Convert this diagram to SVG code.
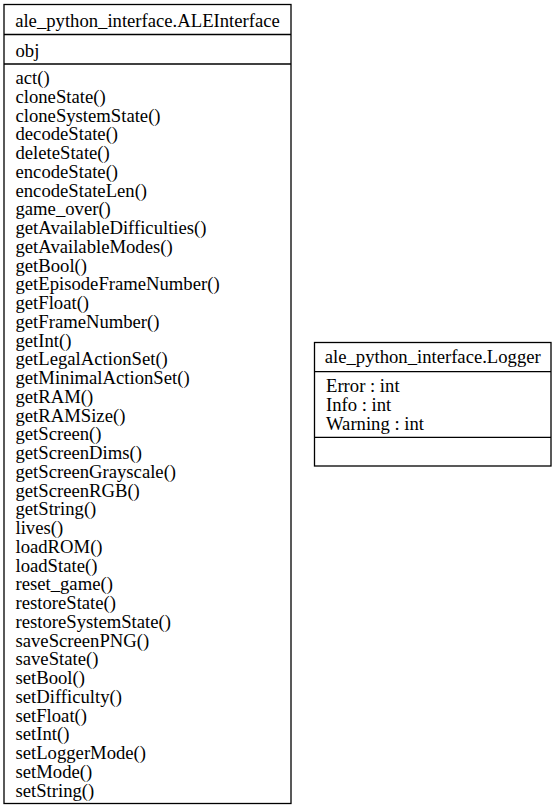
<svg xmlns="http://www.w3.org/2000/svg" width="558" height="809" viewBox="0 0 558 809">
<style>
.box{fill:#fff;stroke:#000;stroke-width:1.3}
.ln{stroke:#000;stroke-width:1.3}
text{font-family:"Liberation Serif","Times New Roman",serif;font-size:18.67px;fill:#000}
.c{text-anchor:middle}
</style>
<rect width="558" height="809" fill="#fff"/>
<g id="ALEInterface">
<rect class="box" x="4" y="4.5" width="287" height="799"/>
<line class="ln" x1="4" y1="34.5" x2="291" y2="34.5"/>
<line class="ln" x1="4" y1="64" x2="291" y2="64"/>
<text class="c" x="147.5" y="27">ale_python_interface.ALEInterface</text>
<text x="15.5" y="56.5">obj</text>
<text x="15.5" y="84">act()</text>
<text x="15.5" y="102.75">cloneState()</text>
<text x="15.5" y="121.5">cloneSystemState()</text>
<text x="15.5" y="140.25">decodeState()</text>
<text x="15.5" y="159">deleteState()</text>
<text x="15.5" y="177.75">encodeState()</text>
<text x="15.5" y="196.5">encodeStateLen()</text>
<text x="15.5" y="215.25">game_over()</text>
<text x="15.5" y="234">getAvailableDifficulties()</text>
<text x="15.5" y="252.75">getAvailableModes()</text>
<text x="15.5" y="271.5">getBool()</text>
<text x="15.5" y="290.25">getEpisodeFrameNumber()</text>
<text x="15.5" y="309">getFloat()</text>
<text x="15.5" y="327.75">getFrameNumber()</text>
<text x="15.5" y="346.5">getInt()</text>
<text x="15.5" y="365.25">getLegalActionSet()</text>
<text x="15.5" y="384">getMinimalActionSet()</text>
<text x="15.5" y="402.75">getRAM()</text>
<text x="15.5" y="421.5">getRAMSize()</text>
<text x="15.5" y="440.25">getScreen()</text>
<text x="15.5" y="459">getScreenDims()</text>
<text x="15.5" y="477.75">getScreenGrayscale()</text>
<text x="15.5" y="496.5">getScreenRGB()</text>
<text x="15.5" y="515.25">getString()</text>
<text x="15.5" y="534">lives()</text>
<text x="15.5" y="552.75">loadROM()</text>
<text x="15.5" y="571.5">loadState()</text>
<text x="15.5" y="590.25">reset_game()</text>
<text x="15.5" y="609">restoreState()</text>
<text x="15.5" y="627.75">restoreSystemState()</text>
<text x="15.5" y="646.5">saveScreenPNG()</text>
<text x="15.5" y="665.25">saveState()</text>
<text x="15.5" y="684">setBool()</text>
<text x="15.5" y="702.75">setDifficulty()</text>
<text x="15.5" y="721.5">setFloat()</text>
<text x="15.5" y="740.25">setInt()</text>
<text x="15.5" y="759">setLoggerMode()</text>
<text x="15.5" y="777.75">setMode()</text>
<text x="15.5" y="796.5">setString()</text>
</g>
<g id="Logger">
<rect class="box" x="314.5" y="342.5" width="236.5" height="123.5"/>
<line class="ln" x1="314.5" y1="371.7" x2="551" y2="371.7"/>
<line class="ln" x1="314.5" y1="437.3" x2="551" y2="437.3"/>
<text class="c" x="432.75" y="362.5">ale_python_interface.Logger</text>
<text x="326" y="392">Error : int</text>
<text x="326" y="410.75">Info : int</text>
<text x="326" y="429.5">Warning : int</text>
</g>
<g id="connectors"></g>
</svg>
